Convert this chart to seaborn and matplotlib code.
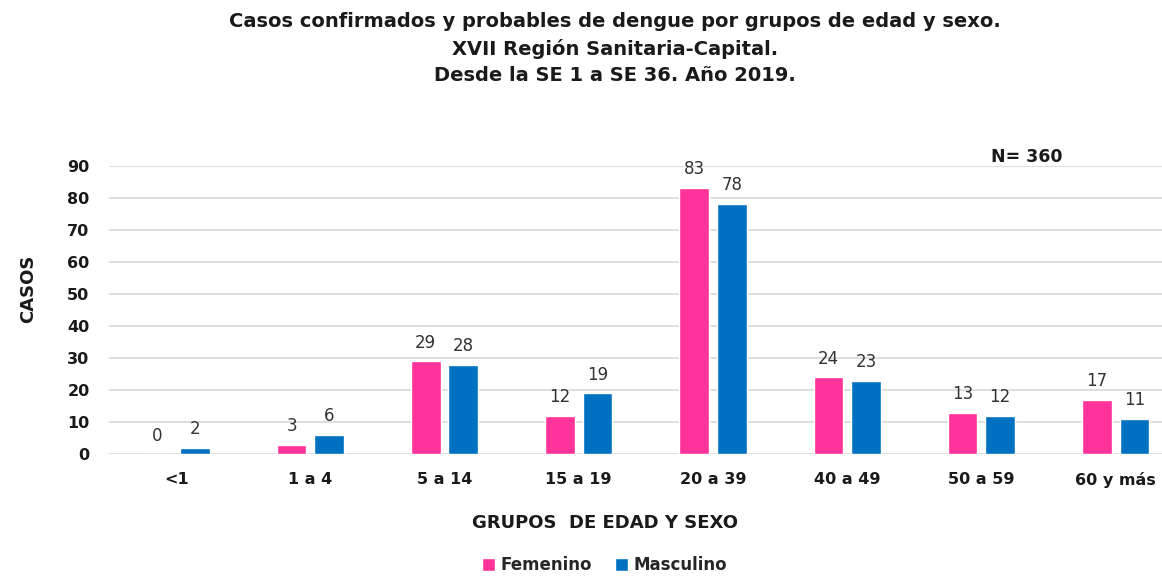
import pandas as pd
import matplotlib.pyplot as plt
import seaborn as sns

# ── DATA ───────────────────────────────────────────────────
grupos    = ["<1", "1 a 4", "5 a 14", "15 a 19", "20 a 39", "40 a 49", "50 a 59", "60 y más"]
femenino  = [0, 3, 29, 12, 83, 24, 13, 17]
masculino = [2, 6, 28, 19, 78, 23, 12, 11]
series    = ["Femenino", "Masculino"]

PINK = "#FF3399"
BLUE = "#0070C0"
GRID = "#D9D9D9"
TEXT = "#1A1A1A"

df = pd.DataFrame({
    "grupo": grupos * 2,
    "sexo": [series[0]] * len(grupos) + [series[1]] * len(grupos),
    "casos": femenino + masculino,
})

sns.set_style("white")
plt.rcParams["font.family"] = ["DejaVu Sans"]

fig = plt.figure(figsize=(11.62, 5.78), dpi=100)
ax = fig.add_axes([0.0938, 0.214, 0.924, 0.4993])

sns.barplot(data=df, x="grupo", y="casos", hue="sexo", order=grupos,
            hue_order=series, palette=[PINK, BLUE], width=0.56, gap=0.21,
            saturation=1, ax=ax)

for cont in ax.containers:
    ax.bar_label(cont, padding=7, fontsize=12, color="#333333")

ax.set_xlim(-0.5, 7.5)
ax.set_ylim(0, 90)
ax.set_yticks(range(0, 91, 10))
ax.yaxis.grid(True, color=GRID, linewidth=1.2)
ax.set_axisbelow(True)
for s in ax.spines.values():
    s.set_visible(False)

ax.tick_params(axis="y", length=0, pad=14, labelsize=11.5, colors=TEXT)
ax.tick_params(axis="x", length=0, pad=13, labelsize=11.5, colors=TEXT)
for lab in ax.get_xticklabels() + ax.get_yticklabels():
    lab.set_fontweight("bold")

ax.set_xlabel("")
ax.set_ylabel("")
fig.text(0.024, 0.50, "CASOS", rotation=90, ha="center", va="center",
         fontsize=13, fontweight="bold", color=TEXT)
fig.text(0.521, 0.095, "GRUPOS  DE EDAD Y SEXO", ha="center", va="center",
         fontsize=13, fontweight="bold", color=TEXT)

fig.suptitle("Casos confirmados y probables de dengue por grupos de edad y sexo.\n"
             "XVII Región Sanitaria-Capital.\n"
             "Desde la SE 1 a SE 36. Año 2019.",
             x=0.529, y=0.98, fontsize=14, fontweight="bold", color=TEXT,
             linespacing=1.5)

fig.text(0.884, 0.728, "N= 360", ha="center", va="center",
         fontsize=12.5, fontweight="bold", color=TEXT)

ax.legend(loc="center", bbox_to_anchor=(0.52, 0.022), bbox_transform=fig.transFigure,
          ncol=2, frameon=False, handlelength=0.8, handleheight=0.8,
          handletextpad=0.3, columnspacing=1.4,
          prop={"weight": "bold", "size": 12})

fig.savefig("out.png", dpi=100)
